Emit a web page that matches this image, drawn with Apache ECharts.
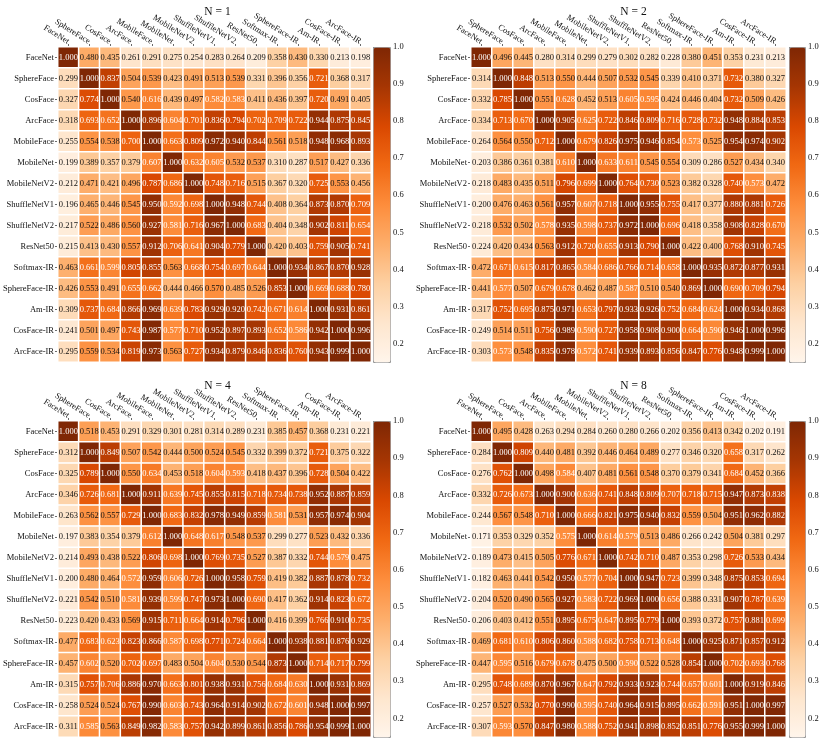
<!DOCTYPE html>
<html>
<head>
<meta charset="utf-8">
<script src="https://cdn.jsdelivr.net/npm/echarts@6/dist/echarts.min.js"></script>
<style>html,body{margin:0;padding:0;background:#fff;}#main{width:822px;height:741px;}</style>
</head>
<body>
<div id="main"></div>
<script>
const models = ['FaceNet','SphereFace','CosFace','ArcFace','MobileFace','MobileNet','MobileNetV2','ShuffleNetV1','ShuffleNetV2','ResNet50','Softmax-IR','SphereFace-IR','Am-IR','CosFace-IR','ArcFace-IR'];
const panelTitles = ['N = 1','N = 2','N = 4','N = 8'];
const colorbarTicks = [0.2,0.3,0.4,0.5,0.6,0.7,0.8,0.9,1.0];
const colorMin = 0.15, colorMax = 1.0;
const whiteTextFrom = 0.572;

const simN1 = [
[1.000,0.480,0.435,0.261,0.291,0.275,0.254,0.283,0.264,0.209,0.358,0.430,0.330,0.213,0.198],
[0.299,1.000,0.837,0.504,0.539,0.423,0.491,0.513,0.539,0.331,0.396,0.356,0.721,0.368,0.317],
[0.327,0.774,1.000,0.540,0.616,0.439,0.497,0.582,0.583,0.411,0.436,0.397,0.720,0.491,0.405],
[0.318,0.693,0.652,1.000,0.896,0.604,0.701,0.836,0.794,0.702,0.709,0.722,0.944,0.875,0.845],
[0.255,0.554,0.538,0.700,1.000,0.663,0.809,0.972,0.940,0.844,0.561,0.518,0.948,0.968,0.893],
[0.199,0.389,0.357,0.379,0.607,1.000,0.632,0.605,0.532,0.537,0.310,0.287,0.517,0.427,0.336],
[0.212,0.471,0.421,0.496,0.787,0.686,1.000,0.748,0.716,0.515,0.367,0.320,0.725,0.553,0.456],
[0.196,0.465,0.446,0.545,0.950,0.592,0.698,1.000,0.948,0.744,0.408,0.364,0.873,0.870,0.709],
[0.217,0.522,0.486,0.560,0.927,0.581,0.716,0.967,1.000,0.683,0.404,0.348,0.902,0.811,0.654],
[0.215,0.413,0.430,0.557,0.912,0.706,0.641,0.904,0.779,1.000,0.420,0.403,0.759,0.905,0.741],
[0.463,0.661,0.599,0.805,0.855,0.563,0.668,0.754,0.697,0.644,1.000,0.934,0.867,0.870,0.928],
[0.426,0.553,0.491,0.655,0.662,0.444,0.466,0.570,0.485,0.526,0.853,1.000,0.669,0.688,0.780],
[0.309,0.737,0.684,0.866,0.969,0.639,0.783,0.929,0.920,0.742,0.671,0.614,1.000,0.931,0.861],
[0.241,0.501,0.497,0.743,0.987,0.577,0.710,0.952,0.897,0.893,0.652,0.586,0.942,1.000,0.996],
[0.295,0.559,0.534,0.819,0.973,0.563,0.727,0.934,0.879,0.846,0.836,0.760,0.943,0.999,1.000]
];
const simN2 = [
[1.000,0.496,0.445,0.280,0.314,0.299,0.279,0.302,0.282,0.228,0.380,0.451,0.353,0.231,0.213],
[0.314,1.000,0.848,0.513,0.550,0.444,0.507,0.532,0.545,0.339,0.410,0.371,0.732,0.380,0.327],
[0.332,0.785,1.000,0.551,0.628,0.452,0.513,0.605,0.595,0.424,0.446,0.404,0.732,0.509,0.426],
[0.334,0.713,0.670,1.000,0.905,0.625,0.722,0.846,0.809,0.716,0.728,0.732,0.948,0.884,0.853],
[0.264,0.564,0.550,0.712,1.000,0.679,0.826,0.975,0.946,0.854,0.573,0.525,0.954,0.974,0.902],
[0.203,0.386,0.361,0.381,0.610,1.000,0.633,0.611,0.545,0.554,0.309,0.286,0.527,0.434,0.340],
[0.218,0.483,0.435,0.511,0.796,0.699,1.000,0.764,0.730,0.523,0.382,0.328,0.740,0.573,0.472],
[0.200,0.476,0.463,0.561,0.957,0.607,0.718,1.000,0.955,0.755,0.417,0.377,0.880,0.881,0.726],
[0.218,0.532,0.502,0.578,0.935,0.598,0.737,0.972,1.000,0.696,0.418,0.358,0.908,0.828,0.670],
[0.224,0.420,0.434,0.563,0.912,0.720,0.655,0.913,0.790,1.000,0.422,0.400,0.768,0.910,0.745],
[0.472,0.671,0.615,0.817,0.865,0.584,0.686,0.766,0.714,0.658,1.000,0.935,0.872,0.877,0.931],
[0.441,0.577,0.507,0.679,0.678,0.462,0.487,0.587,0.510,0.540,0.869,1.000,0.690,0.709,0.794],
[0.317,0.752,0.695,0.875,0.971,0.653,0.797,0.933,0.926,0.752,0.684,0.624,1.000,0.934,0.868],
[0.249,0.514,0.511,0.756,0.989,0.590,0.727,0.958,0.908,0.900,0.664,0.590,0.946,1.000,0.996],
[0.303,0.573,0.548,0.835,0.978,0.572,0.741,0.939,0.893,0.856,0.847,0.776,0.948,0.999,1.000]
];
const simN4 = [
[1.000,0.518,0.453,0.291,0.329,0.301,0.281,0.314,0.289,0.231,0.385,0.457,0.368,0.231,0.221],
[0.312,1.000,0.849,0.507,0.542,0.444,0.500,0.524,0.545,0.332,0.399,0.372,0.721,0.375,0.322],
[0.325,0.789,1.000,0.550,0.634,0.453,0.518,0.604,0.593,0.418,0.437,0.396,0.728,0.504,0.422],
[0.346,0.726,0.681,1.000,0.911,0.639,0.745,0.855,0.815,0.718,0.734,0.738,0.952,0.887,0.859],
[0.263,0.562,0.557,0.729,1.000,0.683,0.832,0.978,0.949,0.859,0.581,0.531,0.957,0.974,0.904],
[0.197,0.383,0.354,0.379,0.612,1.000,0.648,0.617,0.548,0.537,0.299,0.277,0.523,0.432,0.336],
[0.214,0.493,0.438,0.522,0.806,0.698,1.000,0.769,0.735,0.527,0.387,0.332,0.744,0.579,0.475],
[0.200,0.480,0.464,0.572,0.959,0.606,0.726,1.000,0.958,0.759,0.419,0.382,0.887,0.878,0.732],
[0.221,0.542,0.510,0.581,0.939,0.599,0.747,0.973,1.000,0.690,0.417,0.362,0.914,0.823,0.672],
[0.223,0.420,0.433,0.569,0.915,0.711,0.664,0.914,0.796,1.000,0.416,0.399,0.766,0.910,0.735],
[0.477,0.683,0.623,0.823,0.866,0.587,0.698,0.771,0.724,0.664,1.000,0.938,0.881,0.876,0.929],
[0.457,0.602,0.520,0.702,0.697,0.483,0.504,0.604,0.530,0.544,0.873,1.000,0.714,0.717,0.799],
[0.315,0.757,0.706,0.886,0.970,0.663,0.801,0.938,0.931,0.756,0.684,0.630,1.000,0.931,0.869],
[0.258,0.524,0.524,0.767,0.990,0.603,0.743,0.964,0.914,0.902,0.672,0.601,0.948,1.000,0.997],
[0.311,0.585,0.563,0.849,0.982,0.583,0.757,0.942,0.899,0.861,0.856,0.786,0.954,0.999,1.000]
];
const simN8 = [
[1.000,0.495,0.428,0.263,0.294,0.284,0.260,0.280,0.266,0.202,0.356,0.413,0.342,0.202,0.191],
[0.284,1.000,0.809,0.440,0.481,0.392,0.446,0.464,0.489,0.277,0.346,0.320,0.658,0.317,0.262],
[0.276,0.762,1.000,0.498,0.584,0.407,0.481,0.561,0.548,0.370,0.379,0.341,0.684,0.452,0.366],
[0.332,0.726,0.673,1.000,0.900,0.636,0.741,0.848,0.809,0.707,0.718,0.715,0.947,0.873,0.838],
[0.244,0.567,0.548,0.710,1.000,0.666,0.821,0.975,0.940,0.832,0.559,0.504,0.951,0.962,0.882],
[0.171,0.353,0.329,0.352,0.575,1.000,0.614,0.579,0.513,0.486,0.266,0.242,0.504,0.381,0.297],
[0.189,0.473,0.415,0.505,0.776,0.671,1.000,0.742,0.710,0.487,0.353,0.298,0.726,0.533,0.434],
[0.182,0.463,0.441,0.542,0.950,0.577,0.704,1.000,0.947,0.723,0.399,0.348,0.875,0.853,0.694],
[0.204,0.520,0.490,0.565,0.927,0.583,0.722,0.969,1.000,0.656,0.388,0.331,0.907,0.787,0.639],
[0.206,0.403,0.412,0.551,0.895,0.675,0.647,0.895,0.779,1.000,0.393,0.372,0.757,0.881,0.699],
[0.469,0.681,0.610,0.806,0.860,0.588,0.682,0.758,0.713,0.648,1.000,0.925,0.871,0.857,0.912],
[0.447,0.595,0.516,0.679,0.678,0.475,0.500,0.590,0.522,0.528,0.854,1.000,0.702,0.693,0.768],
[0.295,0.748,0.689,0.870,0.967,0.647,0.792,0.933,0.923,0.744,0.657,0.601,1.000,0.919,0.846],
[0.257,0.527,0.532,0.770,0.990,0.595,0.740,0.964,0.915,0.895,0.662,0.591,0.951,1.000,0.997],
[0.307,0.593,0.570,0.847,0.980,0.588,0.752,0.941,0.898,0.852,0.851,0.776,0.955,0.999,1.000]
];
const matrices = [simN1, simN2, simN4, simN8];

const oranges = ['#fff5eb','#fee6ce','#fdd0a2','#fdae6b','#fd8d3c','#f16913','#d94801','#a63603','#7f2704'];
const FONT = '"Liberation Serif","DejaVu Serif",serif';

// panel layout (px)
const panels = [
  {left: 54,  top: 47,  width: 317, height: 315, cbLeft: 373, cbWidth: 17},
  {left: 471, top: 47,  width: 315, height: 315, cbLeft: 789, cbWidth: 16},
  {left: 54,  top: 421, width: 317, height: 316, cbLeft: 373, cbWidth: 17},
  {left: 471, top: 421, width: 315, height: 316, cbLeft: 789, cbWidth: 16}
];

const option = {
  backgroundColor: '#fff',
  animation: false,
  title: [], grid: [], xAxis: [], yAxis: [], series: [], visualMap: []
};

panels.forEach((p, k) => {
  option.title.push({
    text: panelTitles[k],
    left: p.left + p.width / 2,
    top: p.top - 46,
    textAlign: 'center',
    textStyle: {fontFamily: FONT, fontSize: 11.5, fontWeight: 'normal', color: '#111'}
  });
  option.grid.push({left: p.left, top: p.top, width: p.width, height: p.height, containLabel: false});
  const gi = option.grid.length - 1;
  option.xAxis.push({
    gridIndex: gi, type: 'category', data: models, position: 'top',
    axisLine: {show: false},
    axisTick: {show: true, alignWithLabel: true, length: 3, lineStyle: {color: '#444', width: 0.8}},
    axisLabel: {rotate: 32, margin: 5, fontFamily: FONT, fontSize: 8.5, color: '#111', interval: 0},
    splitLine: {show: false}
  });
  option.yAxis.push({
    gridIndex: gi, type: 'category', data: models, inverse: true,
    axisLine: {show: false},
    axisTick: {show: true, alignWithLabel: true, length: 3, lineStyle: {color: '#444', width: 0.8}},
    axisLabel: {margin: 4, fontFamily: FONT, fontSize: 8.5, color: '#111', interval: 0},
    splitLine: {show: false}
  });
  const data = [];
  matrices[k].forEach((row, r) => {
    row.forEach((v, c) => {
      data.push({value: [c, r, v], label: {color: v >= whiteTextFrom ? '#ffffff' : '#111111'}});
    });
  });
  option.series.push({
    type: 'heatmap', xAxisIndex: gi, yAxisIndex: gi, data: data,
    itemStyle: {borderColor: '#ffffff', borderWidth: 1.5},
    label: {show: true, fontFamily: FONT, fontSize: 8.5, formatter: (pp) => pp.value[2].toFixed(3)},
    emphasis: {disabled: true}
  });
  const si = option.series.length - 1;
  option.visualMap.push({
    type: 'continuous', seriesIndex: si, min: colorMin, max: colorMax,
    orient: 'vertical', left: p.cbLeft, top: p.top,
    itemWidth: p.cbWidth, itemHeight: p.height,
    padding: 0, calculable: false, text: null, realtime: false, hoverLink: false,
    borderColor: '#999', borderWidth: 1,
    inRange: {color: oranges}
  });
  option.grid.push({left: p.cbLeft, top: p.top, width: p.cbWidth, height: p.height, containLabel: false});
  const ci = option.grid.length - 1;
  option.xAxis.push({gridIndex: ci, type: 'value', min: 0, max: 1, show: false});
  option.yAxis.push({
    gridIndex: ci, type: 'value', min: colorMin, max: colorMax, position: 'right',
    axisLine: {show: false},
    splitLine: {show: false},
    axisTick: {show: true, length: 3, customValues: colorbarTicks, lineStyle: {color: '#444', width: 0.8}},
    axisLabel: {show: true, margin: 3, customValues: colorbarTicks, fontFamily: FONT, fontSize: 8.5, color: '#111',
      formatter: (v) => Number(v).toFixed(1)}
  });
  option.series.push({type: 'scatter', xAxisIndex: ci, yAxisIndex: ci, data: [], silent: true});
});

const chart = echarts.init(document.getElementById('main'), null, {renderer: 'canvas'});
chart.setOption(option);
</script>
</body>
</html>
